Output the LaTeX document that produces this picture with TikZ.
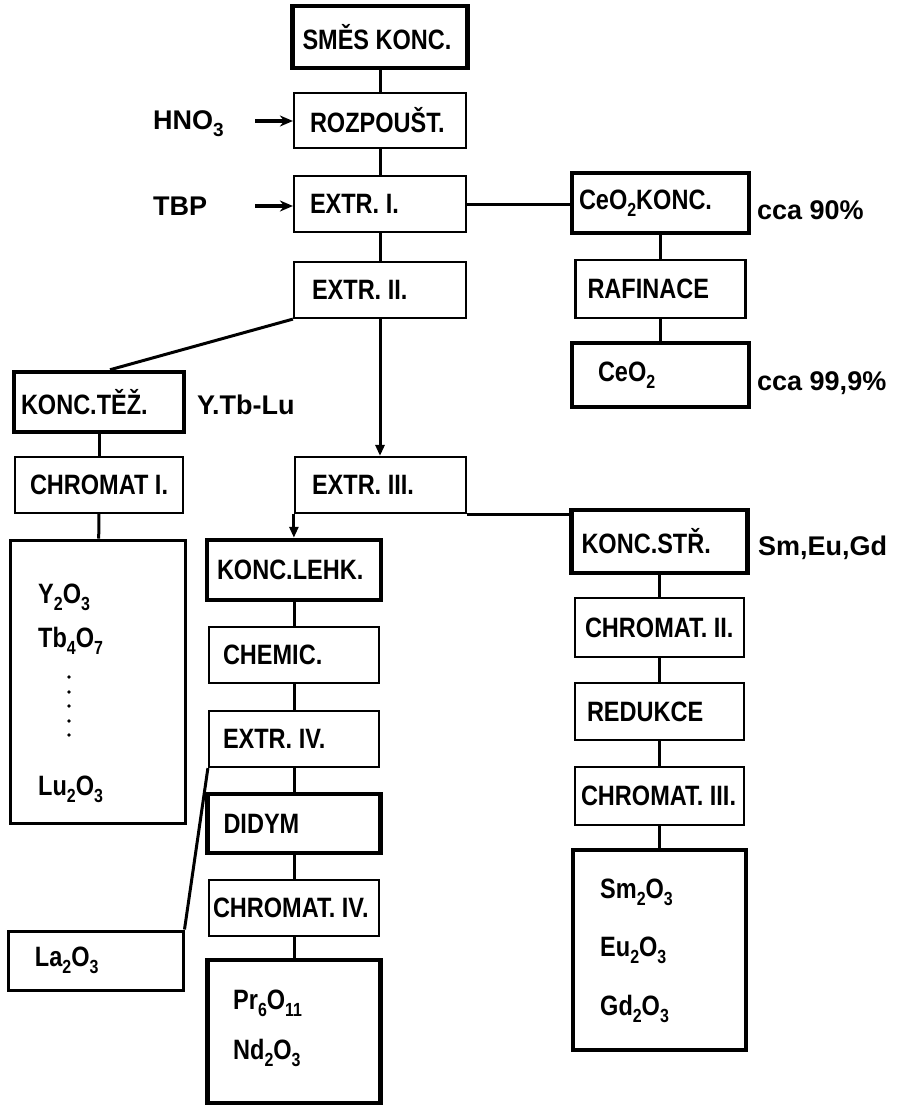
\documentclass[tikz,border=0pt]{standalone}
\usepackage{fontspec}
\newfontfamily\dfont{Liberation Sans}[FakeStretch=0.84]
\newfontfamily\lfont{Liberation Sans}
\usetikzlibrary{arrows.meta,calc}
\newcommand\sbs[1]{\raisebox{-0.25em}{\fontsize{19}{19}\selectfont #1}}
\newcommand\bt[3]{\makebox[#1pt][l]{\hspace*{#2pt}#3}}
\begin{document}
\begin{tikzpicture}[x=1pt,y=-1pt,
  bx/.style={draw, line width=2.2pt, inner sep=0pt, font=\dfont\bfseries\fontsize{28}{30}\selectfont},
  mbx/.style={bx, line width=3pt},
  tbx/.style={bx, line width=4.5pt},
  ox/.style={anchor=base west, inner sep=0pt, font=\dfont\bfseries\fontsize{28}{30}\selectfont},
  side/.style={anchor=west, inner sep=0pt, font=\lfont\bfseries\fontsize{27}{30}\selectfont},
  ln/.style={line width=3pt},
  arr/.style={ln, -{Triangle[length=11pt,width=9pt]}},
  inarr/.style={line width=3.2pt, -{Stealth[length=13pt,width=11pt]}}]
\fill[white] (0,0) rectangle (904,1108);
% main column
\node[tbx, minimum height=62pt] (smes) at (380,37) {\bt{175}{10}{SMĚS KONC.}};
\node[bx, minimum height=55pt] (rozp) at (380,120.5) {\bt{172}{16}{ROZPOUŠT.}};
\node[bx, minimum height=56pt] (ext1) at (380,204) {\bt{172}{16}{EXTR. I.}};
\node[bx, minimum height=56pt] (ext2) at (380,290) {\bt{172}{18}{EXTR. II.}};
% cerium column
\node[tbx, minimum height=60pt] (ceok) at (660.5,203) {\bt{177}{7}{CeO\sbs{2}KONC.}};
\node[bx, minimum height=58pt] (raf) at (660.5,289) {\bt{170}{12}{RAFINACE}};
\node[tbx, minimum height=64pt] (ceo) at (660.5,375) {\bt{177}{26}{CeO\sbs{2}}};
% heavy column
\node[tbx, minimum height=60pt] (tez) at (99,402) {\bt{170}{7}{KONC.TĚŽ.}};
\node[bx, minimum height=56pt] (chr1) at (99,485) {\bt{168}{15}{CHROMAT I.}};
\node[mbx, minimum width=175pt, minimum height=283pt] (yox) at (98,681.5) {};
% extraction III
\node[bx, minimum height=56pt] (ext3) at (380.5,485) {\bt{171}{17}{EXTR. III.}};
% light column
\node[tbx, minimum height=60pt] (lehk) at (294,570) {\bt{174}{10}{KONC.LEHK.}};
\node[bx, minimum height=56pt] (chem) at (294,655) {\bt{170}{14}{CHEMIC.}};
\node[bx, minimum height=56pt] (ext4) at (294,739) {\bt{170}{14}{EXTR. IV.}};
\node[tbx, minimum height=59pt] (didym) at (294,823.5) {\bt{173}{16}{DIDYM}};
\node[bx, minimum height=56pt] (chr4) at (294,908) {\bt{170}{4}{CHROMAT. IV.}};
\node[tbx, minimum width=173pt, minimum height=143pt] (prnd) at (294,1031.5) {};
\node[mbx, minimum height=59pt] (la) at (95.5,960.5) {\bt{175}{27}{La\sbs{2}O\sbs{3}}};
% medium column
\node[tbx, minimum height=63pt] (str) at (659.5,541.5) {\bt{176}{10}{KONC.STŘ.}};
\node[bx, minimum height=59pt] (chr2) at (659.5,627.5) {\bt{169}{10}{CHROMAT. II.}};
\node[bx, minimum height=57pt] (red) at (659.5,711.5) {\bt{169}{12}{REDUKCE}};
\node[bx, minimum height=58pt] (chr3) at (659.5,796) {\bt{169}{6}{CHROMAT. III.}};
\node[tbx, minimum width=173pt, minimum height=200pt] (smox) at (659.5,950) {};
% contents of product boxes
\node[ox] (y2) at (38,603) {Y\sbs{2}O\sbs{3}};
\node[ox] (tb4) at (38,647) {Tb\sbs{4}O\sbs{7}};
\foreach \yy in {677,692,706,721,735} \fill (69,\yy) circle (1.8pt);
\node[ox] (lu2) at (38,795) {Lu\sbs{2}O\sbs{3}};
\node[ox] (pr6) at (233,1009) {Pr\sbs{6}O\sbs{11}};
\node[ox] (nd2) at (233,1059) {Nd\sbs{2}O\sbs{3}};
\node[ox] (sm2) at (600,898) {Sm\sbs{2}O\sbs{3}};
\node[ox] (eu2) at (600,956) {Eu\sbs{2}O\sbs{3}};
\node[ox] (gd2) at (600,1015) {Gd\sbs{2}O\sbs{3}};
% side labels
\node[side] (hno) at (153,124) {HNO\sbs{3}};
\node[side] (tbp) at (153,206) {TBP};
\node[side] (c90) at (757,210) {cca 90\%};
\node[side] (c999) at (757,383) {cca 99,9\%};
\node[side] (ytb) at (197,405) {Y.Tb-Lu};
\node[side] (seg) at (758,548) {Sm,Eu,Gd};
% input arrows
\coordinate (hs) at (255,121);
\coordinate (ts) at (255,206);
\draw[inarr] (hs) -- (hs -| rozp.west);
\draw[inarr] (ts) -- (ts -| ext1.west);
% connectors
\draw[ln] (smes) -- (rozp);
\draw[ln] (rozp) -- (ext1);
\draw[ln] (ext1) -- (ext2);
\draw[ln] (ext1.east) -- (ext1.east -| ceok.west);
\draw[ln] (ceok) -- (raf);
\draw[ln] (raf) -- (ceo);
\draw[ln] (ext2.south west) -- ([xshift=11pt]tez.north);
\draw[arr] (ext2.south) -- (ext2.south |- ext3.north);
\draw[ln] (tez) -- (chr1);
\draw[ln] (chr1) -- (yox);
\draw[arr] (ext3.south west) -- (ext3.south west |- lehk.north);
\draw[ln] (ext3.south east) -- (ext3.south east -| str.west);
\draw[ln] (lehk) -- (chem);
\draw[ln] (chem) -- (ext4);
\draw[ln] (ext4) -- (didym);
\draw[ln] (didym) -- (chr4);
\draw[ln] (chr4) -- (prnd);
\draw[ln] (ext4.south west) -- (la.north east);
\draw[ln] (str) -- (chr2);
\draw[ln] (chr2) -- (red);
\draw[ln] (red) -- (chr3);
\draw[ln] (chr3) -- (smox);
\end{tikzpicture}
\end{document}
